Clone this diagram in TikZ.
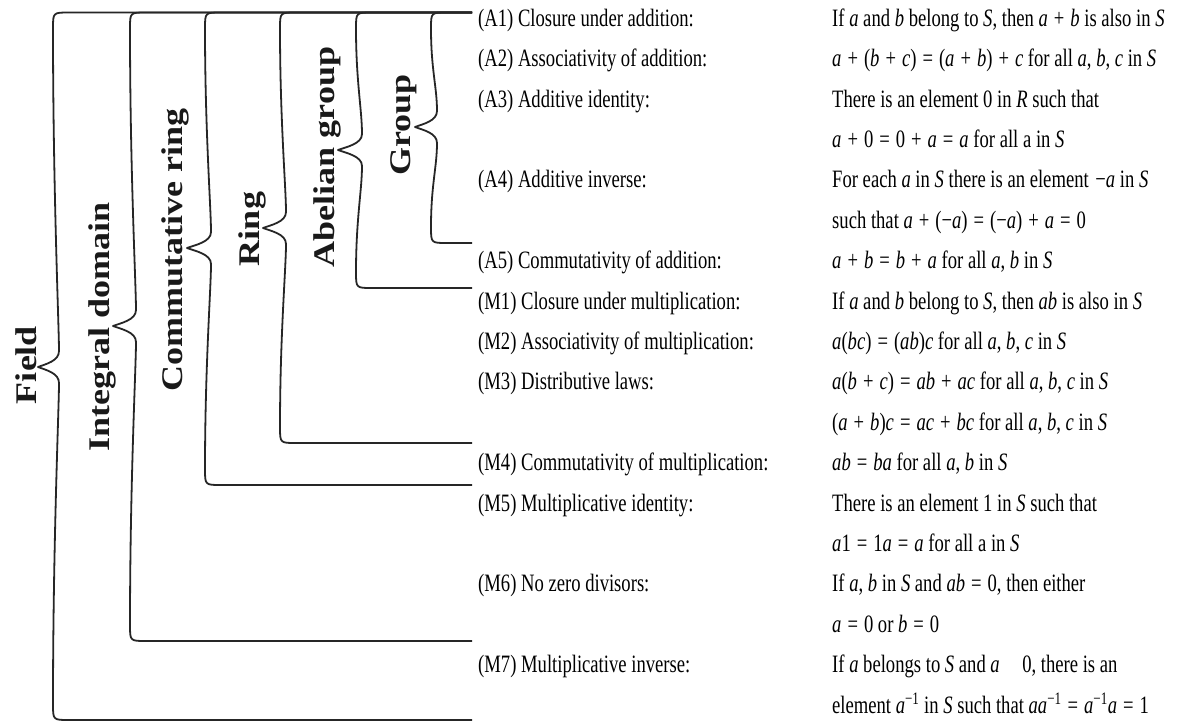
\documentclass[tikz,border=0pt]{standalone}
\usepackage{fontspec}
\setmainfont{Liberation Serif}[FakeStretch=0.745]
\newfontfamily\lblfont{Liberation Serif}[FakeStretch=1.2]
\newcommand\itv[1]{\textit{#1}}
% binary operators with wide spacing
\newcommand\opp{\hspace{6pt}+\hspace{6pt}}
\newcommand\opeq{\hspace{6pt}=\hspace{6pt}}
% curly brace opening to the right: arm x, tip x, tip y, bottom y
\newcommand\setbrace[4]{%
  \draw[bracepen] (472,12.5) -- ({#1+16},12.5)
    .. controls (#1,12.5) .. (#1,28.5)
    .. controls (#1,{0.5*(12.5+#3)}) and ({#1+6},{#3-40}) .. ({#1+6},{#3-16})
    .. controls ({#1+6},{#3-6}) and ({#2+8},{#3-3}) .. (#2,#3)
    .. controls ({#2+8},{#3+3}) and ({#1+6},{#3+6}) .. ({#1+6},{#3+16})
    .. controls ({#1+6},{#3+40}) and (#1,{0.5*(#3+#4)}) .. (#1,{#4-16})
    .. controls (#1,#4) .. ({#1+16},#4) -- (472,#4);
}
\begin{document}
\begin{tikzpicture}[x=1pt,y=-1pt,
  bracepen/.style={line width=1.8pt, draw=black!85, line join=round},
  rowtext/.style={anchor=west, inner sep=0pt, text height=0.68em, text depth=0.22em,
    font=\fontsize{25}{28}\selectfont, text=black},
  setlabel/.style={rotate=90, anchor=base, inner sep=0pt, text=black!90,
    font=\lblfont\bfseries\fontsize{30}{32}\selectfont}]
\useasboundingbox (0,0) rectangle (1178,723);

% nested braces: Field, Integral domain, Commutative ring, Ring, Abelian group, Group
\setbrace{53}{38}{367}{720}
\setbrace{130}{113}{326}{641}
\setbrace{205}{187}{248}{485}
\setbrace{280}{263}{228}{443}
\setbrace{356}{338}{150}{288}
\setbrace{431}{415}{127}{243}

\node[setlabel] (field)    at (36,365)  {Field};
\node[setlabel] (intdom)   at (109,327) {Integral domain};
\node[setlabel] (commring) at (182,250) {Commutative ring};
\node[setlabel] (ring)     at (259,229) {Ring};
\node[setlabel] (abgroup)  at (334,157) {Abelian group};
\node[setlabel] (group)    at (410,125) {Group};

% axiom names
\node[rowtext] (nA1) at (478,24)    {(A1) Closure under addition:};
\node[rowtext] (nA2) at (478,64.4)  {(A2) Associativity of addition:};
\node[rowtext] (nA3) at (478,104.8) {(A3) Additive identity:};
\node[rowtext] (nA4) at (478,185.6) {(A4) Additive inverse:};
\node[rowtext] (nA5) at (478,266.4) {(A5) Commutativity of addition:};
\node[rowtext] (nM1) at (478,306.8) {(M1) Closure under multiplication:};
\node[rowtext] (nM2) at (478,347.2) {(M2) Associativity of multiplication:};
\node[rowtext] (nM3) at (478,387.6) {(M3) Distributive laws:};
\node[rowtext] (nM4) at (478,468.4) {(M4) Commutativity of multiplication:};
\node[rowtext] (nM5) at (478,508.8) {(M5) Multiplicative identity:};
\node[rowtext] (nM6) at (478,589.6) {(M6) No zero divisors:};
\node[rowtext] (nM7) at (478,670.4) {(M7) Multiplicative inverse:};

% axiom statements
\node[rowtext] (r1)  at (832,24)    {If \itv{a} and \itv{b} belong to \itv{S}, then \itv{a}\opp\itv{b} is also in \itv{S}};
\node[rowtext] (r2)  at (832,64.4)  {\itv{a}\opp(\itv{b}\opp\itv{c})\opeq(\itv{a}\opp\itv{b})\opp\itv{c} for all \itv{a}, \itv{b}, \itv{c} in \itv{S}};
\node[rowtext] (r3)  at (832,104.8) {There is an element 0 in \itv{R} such that};
\node[rowtext] (r4)  at (832,145.2) {\itv{a}\opp0\opeq0\opp\itv{a}\opeq\itv{a} for all a in \itv{S}};
\node[rowtext] (r5)  at (832,185.6) {For each \itv{a} in \itv{S} there is an element \hspace{2pt}−\itv{a} in \itv{S}};
\node[rowtext] (r6)  at (832,226)   {such that \itv{a}\opp(−\itv{a})\opeq(−\itv{a})\opp\itv{a}\opeq0};
\node[rowtext] (r7)  at (832,266.4) {\itv{a}\opp\itv{b}\opeq\itv{b}\opp\itv{a} for all \itv{a}, \itv{b} in \itv{S}};
\node[rowtext] (r8)  at (832,306.8) {If \itv{a} and \itv{b} belong to \itv{S}, then \itv{ab} is also in \itv{S}};
\node[rowtext] (r9)  at (832,347.2) {\itv{a}(\itv{bc})\opeq(\itv{ab})\itv{c} for all \itv{a}, \itv{b}, \itv{c} in \itv{S}};
\node[rowtext] (r10) at (832,387.6) {\itv{a}(\itv{b}\opp\itv{c})\opeq\itv{ab}\opp\itv{ac} for all \itv{a}, \itv{b}, \itv{c} in \itv{S}};
\node[rowtext] (r11) at (832,428)   {(\itv{a}\opp\itv{b})\itv{c}\opeq\itv{ac}\opp\itv{bc} for all \itv{a}, \itv{b}, \itv{c} in \itv{S}};
\node[rowtext] (r12) at (832,468.4) {\itv{ab}\opeq\itv{ba} for all \itv{a}, \itv{b} in \itv{S}};
\node[rowtext] (r13) at (832,508.8) {There is an element 1 in \itv{S} such that};
\node[rowtext] (r14) at (832,549.2) {\itv{a}1\opeq1\itv{a}\opeq\itv{a} for all a in \itv{S}};
\node[rowtext] (r15) at (832,589.6) {If \itv{a}, \itv{b} in \itv{S} and \itv{ab}\opeq0, then either};
\node[rowtext] (r16) at (832,630)   {\itv{a}\opeq0 or \itv{b}\opeq0};
\node[rowtext] (r17) at (832,670.4) {If \itv{a} belongs to \itv{S} and \itv{a}\hspace{0.9em}0, there is an};
\node[rowtext] (r18) at (832,710.8) {element \itv{a}\textsuperscript{−1} in \itv{S} such that \itv{aa}\textsuperscript{−1}\opeq\itv{a}\textsuperscript{−1}\itv{a}\opeq1};
\end{tikzpicture}
\end{document}
